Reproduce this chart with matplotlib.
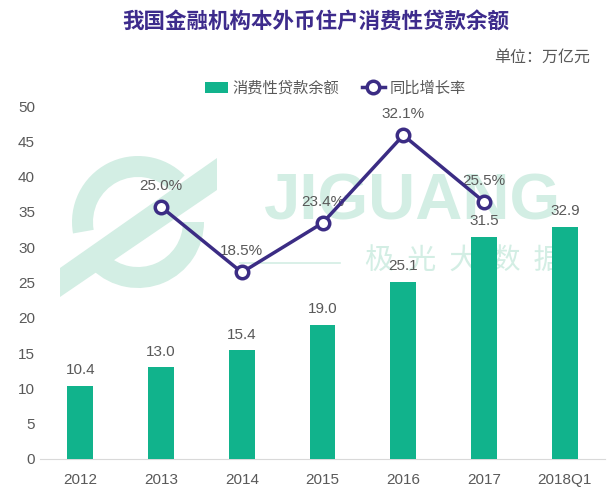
import matplotlib.pyplot as plt
import matplotlib.patches as mpatches
from matplotlib.transforms import IdentityTransform
import numpy as np

plt.rcParams['font.family'] = ['Noto Sans CJK SC', 'DejaVu Sans']

years = ["2012", "2013", "2014", "2015", "2016", "2017", "2018Q1"]
balance = [10.4, 13.0, 15.4, 19.0, 25.1, 31.5, 32.9]
growth_years = ["2013", "2014", "2015", "2016", "2017"]
growth = [25.0, 18.5, 23.4, 32.1, 25.5]

bar_color = "#11B38C"
line_color = "#3B2C84"
text_gray = "#595959"
wm_color = "#D3EEE4"

fig = plt.figure(figsize=(6.15, 5.0), dpi=100)
ax = fig.add_axes([0.065, 0.082, 0.919, 0.706])
ax.patch.set_visible(False)

x = np.arange(len(years))
ax.bar(x, balance, width=0.32, color=bar_color, zorder=3, label="消费性贷款余额")
for xi, v in zip(x, balance):
    ax.text(xi, v + 1.2, f"{v:.1f}", ha="center", va="bottom", fontsize=11, color=text_gray,
            family=["Liberation Sans", "DejaVu Sans"], zorder=5)

ax.set_xlim(-0.5, len(years) - 0.5)
ax.set_ylim(0, 50)
ax.set_yticks(range(0, 51, 5))
ax.set_xticks(x)
ax.set_xticklabels(years)
for s in ["top", "right", "left"]:
    ax.spines[s].set_visible(False)
ax.spines["bottom"].set_color("#D9D9D9")
ax.tick_params(axis="both", length=0, colors=text_gray, labelsize=11)
ax.tick_params(axis="x", pad=10)
for lab in ax.get_yticklabels() + ax.get_xticklabels():
    lab.set_family(["Liberation Sans", "DejaVu Sans"])

# watermark (logo + text), drawn in pixel coordinates from the bottom-left
H = 500
def px(xp, yp):
    return (xp, H - yp)

logo = [
    mpatches.Wedge(px(138, 222), 66, 45, 190, width=21),
    mpatches.Wedge(px(138, 222), 66, 226, 360, width=21),
    mpatches.Polygon([px(60, 297), px(60, 268), px(217, 158), px(217, 190)]),
]
for p in logo:
    p.set_facecolor(wm_color)
    p.set_edgecolor("none")
    p.set_transform(IdentityTransform())
    p.set_zorder(-1)
    fig.patches.append(p)
fig.add_artist(plt.Line2D([240 / 615, 340 / 615], [(H - 263) / H] * 2, color=wm_color,
                          lw=1.2, zorder=-1))

ax.text(4.11, 36.3, "JIGUANG", ha="center", va="center", fontsize=47, fontweight="bold",
        color=wm_color, zorder=1, family=["Liberation Sans"])
ax.text(4.75, 27.9, "极  光  大  数  据", ha="center", va="center", fontsize=21,
        color=wm_color, zorder=1)

ax2 = ax.twinx()
ax2.set_ylim(0, 35)
ax2.axis("off")
gx = [years.index(g) for g in growth_years]
ax2.plot(gx, growth, color=line_color, lw=2.5, marker="o", markersize=9,
         markerfacecolor="white", markeredgecolor=line_color, markeredgewidth=2.5,
         zorder=4, label="同比增长率")
for xi, v in zip(gx, growth):
    ax2.text(xi, v + 1.4, f"{v:.1f}%", ha="center", va="bottom", fontsize=11, color=text_gray,
             family=["Liberation Sans", "DejaVu Sans"])

h1, l1 = ax.get_legend_handles_labels()
h2, l2 = ax2.get_legend_handles_labels()
fig.legend(h1 + h2, l1 + l2, loc="center", bbox_to_anchor=(0.545, 0.824), ncol=2,
           frameon=False, fontsize=11, labelcolor=text_gray, handlelength=1.5,
           handletextpad=0.3, columnspacing=1.5)

fig.text(0.513, 0.955, "我国金融机构本外币住户消费性贷款余额", ha="center", va="center",
         fontsize=15.5, fontweight="bold", color="#3D2B8C")
fig.text(0.96, 0.885, "单位：万亿元", ha="right", va="center", fontsize=11.5,
         style="italic", color=text_gray)

fig.savefig("out.png", dpi=100)
